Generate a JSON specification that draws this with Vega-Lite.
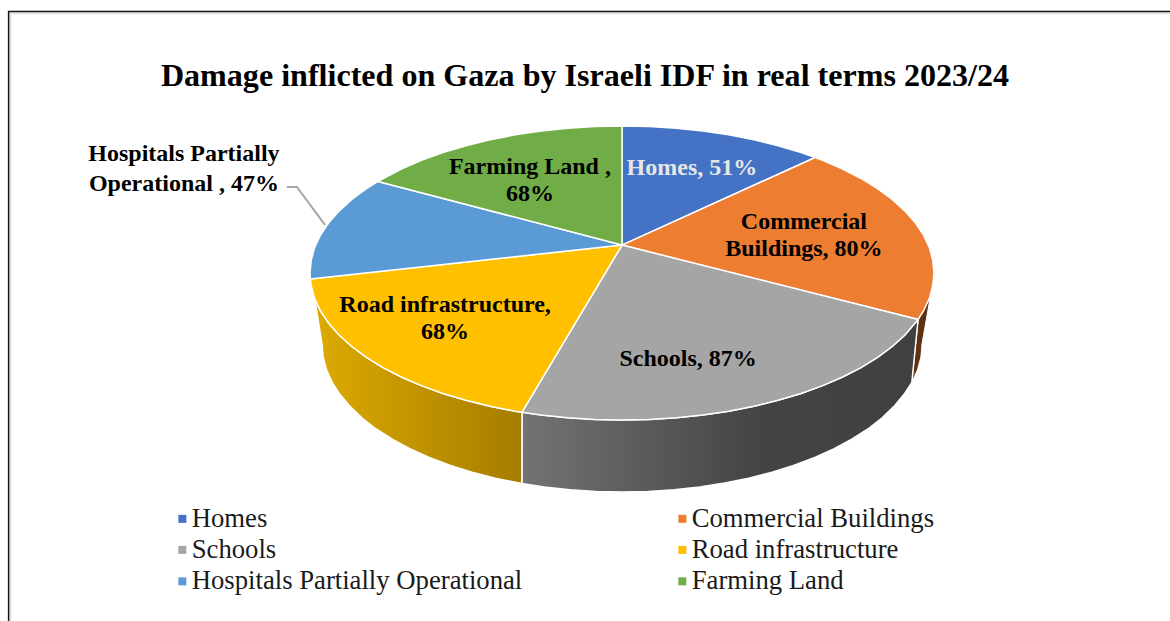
{"$schema":"https://vega.github.io/schema/vega-lite/v6.json","width":1170,"height":621,"padding":0,"autosize":{"type":"none"},"background":"white","config":{"view":{"stroke":null}},
"title":{"text":"Damage inflicted on Gaza by Israeli IDF in real terms 2023/24","anchor":"middle","frame":"group","offset":-93,"font":"Liberation Serif","fontSize":32.1,"fontWeight":"bold","color":"#000000"},
"datasets":{
"frameShadow":[{"seq":1,"x":-196,"y":-236.7},{"seq":2,"x":-196,"y":176.6},{"seq":3,"x":175.64,"y":176.6}],
"frame":[{"seq":1,"x":-196.6,"y":-236.7},{"seq":2,"x":-196.6,"y":177.9},{"seq":3,"x":175.64,"y":177.9}],
"leader":[{"seq":1,"x":-107.4,"y":58.5},{"seq":2,"x":-104.2,"y":58.5},{"seq":3,"x":-95.2,"y":32.7}],
"wallBrown":[{"seq":1,"x":99,"y":-13.9},{"seq":2,"x":98.5,"y":-17.4},{"seq":3,"x":96.6,"y":-25.9},{"seq":4,"x":94.9,"y":-31.6},{"seq":5,"x":92.9,"y":-74.4},{"seq":6,"x":94.7,"y":-65.8},{"seq":7,"x":95.8,"y":-57.1},{"seq":8,"x":96.15,"y":-48.3},{"seq":9,"x":99,"y":-13.9}],
"wallGray":[{"seq":1,"x":94.9,"y":-31.6},{"seq":2,"x":90.6,"y":-42.3},{"seq":3,"x":86.6,"y":-50},{"seq":4,"x":81.9,"y":-57.4},{"seq":5,"x":76.6,"y":-64.3},{"seq":6,"x":70.7,"y":-70.7},{"seq":7,"x":64.3,"y":-76.6},{"seq":8,"x":57.4,"y":-81.9},{"seq":9,"x":50,"y":-86.6},{"seq":10,"x":42.3,"y":-90.6},{"seq":11,"x":34.2,"y":-94},{"seq":12,"x":25.9,"y":-96.6},{"seq":13,"x":17.4,"y":-98.5},{"seq":14,"x":8.7,"y":-99.6},{"seq":15,"x":0,"y":-100},{"seq":16,"x":-8.7,"y":-99.6},{"seq":17,"x":-17.4,"y":-98.5},{"seq":18,"x":-25.9,"y":-96.6},{"seq":19,"x":-32.05,"y":-94.7},{"seq":20,"x":-32.1,"y":-143.2},{"seq":21,"x":-24.9,"y":-145.6},{"seq":22,"x":-16.7,"y":-147.5},{"seq":23,"x":-8.4,"y":-148.6},{"seq":24,"x":0,"y":-149},{"seq":25,"x":8.4,"y":-148.6},{"seq":26,"x":16.7,"y":-147.5},{"seq":27,"x":24.9,"y":-145.6},{"seq":28,"x":32.9,"y":-142.9},{"seq":29,"x":40.6,"y":-139.6},{"seq":30,"x":48.1,"y":-135.5},{"seq":31,"x":55.2,"y":-130.8},{"seq":32,"x":61.8,"y":-125.4},{"seq":33,"x":68,"y":-119.5},{"seq":34,"x":73.65,"y":-113},{"seq":35,"x":78.8,"y":-106.1},{"seq":36,"x":83.3,"y":-98.65},{"seq":37,"x":87.1,"y":-90.9},{"seq":38,"x":90.35,"y":-82.7},{"seq":39,"x":92.9,"y":-74.4},{"seq":40,"x":94.9,"y":-31.6}],
"wallGold":[{"seq":1,"x":-32.05,"y":-94.7},{"seq":2,"x":-34.2,"y":-94},{"seq":3,"x":-42.3,"y":-90.6},{"seq":4,"x":-50,"y":-86.6},{"seq":5,"x":-57.4,"y":-81.9},{"seq":6,"x":-64.3,"y":-76.6},{"seq":7,"x":-70.7,"y":-70.7},{"seq":8,"x":-76.6,"y":-64.3},{"seq":9,"x":-81.9,"y":-57.4},{"seq":10,"x":-86.6,"y":-50},{"seq":11,"x":-90.6,"y":-42.3},{"seq":12,"x":-94,"y":-34.2},{"seq":13,"x":-96.6,"y":-25.9},{"seq":14,"x":-98.5,"y":-17.4},{"seq":15,"x":-96.15,"y":-48.3},{"seq":16,"x":-95.8,"y":-57.1},{"seq":17,"x":-94.7,"y":-65.8},{"seq":18,"x":-92.9,"y":-74.4},{"seq":19,"x":-90.35,"y":-82.7},{"seq":20,"x":-87.1,"y":-90.9},{"seq":21,"x":-83.3,"y":-98.65},{"seq":22,"x":-78.8,"y":-106.1},{"seq":23,"x":-73.65,"y":-113},{"seq":24,"x":-68,"y":-119.5},{"seq":25,"x":-61.8,"y":-125.4},{"seq":26,"x":-55.2,"y":-130.8},{"seq":27,"x":-48.1,"y":-135.5},{"seq":28,"x":-40.6,"y":-139.6},{"seq":29,"x":-32.1,"y":-143.2},{"seq":30,"x":-32.05,"y":-94.7}],
"slices":[
{"name":"Homes","seq":1,"x":0,"y":19},{"name":"Homes","seq":2,"x":0,"y":100},{"name":"Homes","seq":3,"x":8.7,"y":99.6},{"name":"Homes","seq":4,"x":17.4,"y":98.5},{"name":"Homes","seq":5,"x":25.9,"y":96.6},{"name":"Homes","seq":6,"x":34.2,"y":94},{"name":"Homes","seq":7,"x":42.3,"y":90.6},{"name":"Homes","seq":8,"x":50,"y":86.6},{"name":"Homes","seq":9,"x":57.4,"y":81.9},{"name":"Homes","seq":10,"x":61.9,"y":78.6},{"name":"Homes","seq":11,"x":0,"y":19},
{"name":"Commercial Buildings","seq":1,"x":0,"y":19},{"name":"Commercial Buildings","seq":2,"x":61.9,"y":78.6},{"name":"Commercial Buildings","seq":3,"x":64.3,"y":76.6},{"name":"Commercial Buildings","seq":4,"x":70.7,"y":70.7},{"name":"Commercial Buildings","seq":5,"x":76.6,"y":64.3},{"name":"Commercial Buildings","seq":6,"x":81.9,"y":57.4},{"name":"Commercial Buildings","seq":7,"x":86.6,"y":50},{"name":"Commercial Buildings","seq":8,"x":90.6,"y":42.3},{"name":"Commercial Buildings","seq":9,"x":94,"y":34.2},{"name":"Commercial Buildings","seq":10,"x":96.6,"y":25.9},{"name":"Commercial Buildings","seq":11,"x":98.5,"y":17.4},{"name":"Commercial Buildings","seq":12,"x":99.6,"y":8.7},{"name":"Commercial Buildings","seq":13,"x":100,"y":0},{"name":"Commercial Buildings","seq":14,"x":99.6,"y":-8.7},{"name":"Commercial Buildings","seq":15,"x":98.5,"y":-17.4},{"name":"Commercial Buildings","seq":16,"x":96.6,"y":-25.9},{"name":"Commercial Buildings","seq":17,"x":94.9,"y":-31.6},{"name":"Commercial Buildings","seq":18,"x":0,"y":19},
{"name":"Schools","seq":1,"x":0,"y":19},{"name":"Schools","seq":2,"x":94.9,"y":-31.6},{"name":"Schools","seq":3,"x":90.6,"y":-42.3},{"name":"Schools","seq":4,"x":86.6,"y":-50},{"name":"Schools","seq":5,"x":81.9,"y":-57.4},{"name":"Schools","seq":6,"x":76.6,"y":-64.3},{"name":"Schools","seq":7,"x":70.7,"y":-70.7},{"name":"Schools","seq":8,"x":64.3,"y":-76.6},{"name":"Schools","seq":9,"x":57.4,"y":-81.9},{"name":"Schools","seq":10,"x":50,"y":-86.6},{"name":"Schools","seq":11,"x":42.3,"y":-90.6},{"name":"Schools","seq":12,"x":34.2,"y":-94},{"name":"Schools","seq":13,"x":25.9,"y":-96.6},{"name":"Schools","seq":14,"x":17.4,"y":-98.5},{"name":"Schools","seq":15,"x":8.7,"y":-99.6},{"name":"Schools","seq":16,"x":0,"y":-100},{"name":"Schools","seq":17,"x":-8.7,"y":-99.6},{"name":"Schools","seq":18,"x":-17.4,"y":-98.5},{"name":"Schools","seq":19,"x":-25.9,"y":-96.6},{"name":"Schools","seq":20,"x":-32.05,"y":-94.7},{"name":"Schools","seq":21,"x":0,"y":19},
{"name":"Road infrastructure","seq":1,"x":0,"y":19},{"name":"Road infrastructure","seq":2,"x":-32.05,"y":-94.7},{"name":"Road infrastructure","seq":3,"x":-34.2,"y":-94},{"name":"Road infrastructure","seq":4,"x":-42.3,"y":-90.6},{"name":"Road infrastructure","seq":5,"x":-50,"y":-86.6},{"name":"Road infrastructure","seq":6,"x":-57.4,"y":-81.9},{"name":"Road infrastructure","seq":7,"x":-64.3,"y":-76.6},{"name":"Road infrastructure","seq":8,"x":-70.7,"y":-70.7},{"name":"Road infrastructure","seq":9,"x":-76.6,"y":-64.3},{"name":"Road infrastructure","seq":10,"x":-81.9,"y":-57.4},{"name":"Road infrastructure","seq":11,"x":-86.6,"y":-50},{"name":"Road infrastructure","seq":12,"x":-90.6,"y":-42.3},{"name":"Road infrastructure","seq":13,"x":-94,"y":-34.2},{"name":"Road infrastructure","seq":14,"x":-96.6,"y":-25.9},{"name":"Road infrastructure","seq":15,"x":-98.5,"y":-17.4},{"name":"Road infrastructure","seq":16,"x":-99.6,"y":-8.7},{"name":"Road infrastructure","seq":17,"x":-99.9,"y":-4},{"name":"Road infrastructure","seq":18,"x":0,"y":19},
{"name":"Hospitals Partially Operational","seq":1,"x":0,"y":19},{"name":"Hospitals Partially Operational","seq":2,"x":-99.9,"y":-4},{"name":"Hospitals Partially Operational","seq":3,"x":-100,"y":0},{"name":"Hospitals Partially Operational","seq":4,"x":-99.6,"y":8.7},{"name":"Hospitals Partially Operational","seq":5,"x":-98.5,"y":17.4},{"name":"Hospitals Partially Operational","seq":6,"x":-96.6,"y":25.9},{"name":"Hospitals Partially Operational","seq":7,"x":-94,"y":34.2},{"name":"Hospitals Partially Operational","seq":8,"x":-90.6,"y":42.3},{"name":"Hospitals Partially Operational","seq":9,"x":-86.6,"y":50},{"name":"Hospitals Partially Operational","seq":10,"x":-81.9,"y":57.4},{"name":"Hospitals Partially Operational","seq":11,"x":-78.2,"y":62.3},{"name":"Hospitals Partially Operational","seq":12,"x":0,"y":19},
{"name":"Farming Land","seq":1,"x":0,"y":19},{"name":"Farming Land","seq":2,"x":-78.2,"y":62.3},{"name":"Farming Land","seq":3,"x":-70.7,"y":70.7},{"name":"Farming Land","seq":4,"x":-64.3,"y":76.6},{"name":"Farming Land","seq":5,"x":-57.4,"y":81.9},{"name":"Farming Land","seq":6,"x":-50,"y":86.6},{"name":"Farming Land","seq":7,"x":-42.3,"y":90.6},{"name":"Farming Land","seq":8,"x":-34.2,"y":94},{"name":"Farming Land","seq":9,"x":-25.9,"y":96.6},{"name":"Farming Land","seq":10,"x":-17.4,"y":98.5},{"name":"Farming Land","seq":11,"x":-8.7,"y":99.6},{"name":"Farming Land","seq":12,"x":0,"y":100},{"name":"Farming Land","seq":13,"x":0,"y":19}],
"labels":[
{"name":"Homes","value":51,"text":"Homes, 51%","x":22.4,"y":71.4},
{"name":"Commercial Buildings","value":80,"text":"Commercial\nBuildings, 80%","x":58.3,"y":34.7},
{"name":"Schools","value":87,"text":"Schools, 87%","x":21.2,"y":-58.5},
{"name":"Road infrastructure","value":68,"text":"Road infrastructure,\n68%","x":-56.7,"y":-21.8},
{"name":"Farming Land","value":68,"text":"Farming Land ,\n68%","x":-29.5,"y":72.1}],
"labelsOutside":[
{"name":"Hospitals Partially Operational","value":47,"text":"Hospitals Partially\nOperational , 47%","x":-140.4,"y":80.9}]},
"encoding":{"x":{"field":"x","type":"quantitative","axis":null,"scale":{"domain":[-199.36,175.64],"nice":false,"zero":false}},"y":{"field":"y","type":"quantitative","axis":null,"scale":{"domain":[-236.7,185.7],"nice":false,"zero":false}}},
"layer":[
{"data":{"name":"frameShadow"},"mark":{"type":"line","stroke":"#dedede","strokeWidth":1.5},"encoding":{"order":{"field":"seq"}}},
{"data":{"name":"frame"},"mark":{"type":"line","stroke":"#111111","strokeWidth":1.5},"encoding":{"order":{"field":"seq"}}},
{"data":{"name":"wallBrown"},"mark":{"type":"line","fill":"#5f3113","stroke":"#ffffff","strokeWidth":1},"encoding":{"order":{"field":"seq"}}},
{"data":{"name":"wallGray"},"mark":{"type":"line","stroke":"#ffffff","strokeWidth":1.5,"fill":{"gradient":"linear","x1":0,"y1":0,"x2":1,"y2":0,"stops":[{"offset":0,"color":"#737373"},{"offset":0.6,"color":"#444444"},{"offset":1,"color":"#404040"}]}},"encoding":{"order":{"field":"seq"}}},
{"data":{"name":"wallGold"},"mark":{"type":"line","stroke":"#ffffff","strokeWidth":1.5,"fill":{"gradient":"linear","x1":0,"y1":0,"x2":1,"y2":0,"stops":[{"offset":0,"color":"#dcaa00"},{"offset":1,"color":"#a67c00"}]}},"encoding":{"order":{"field":"seq"}}},
{"data":{"name":"slices"},"mark":{"type":"line","stroke":"#ffffff","strokeWidth":1.5},"encoding":{"order":{"field":"seq"},"detail":{"field":"name"},"fill":{"field":"name","type":"nominal","scale":{"domain":["Homes","Commercial Buildings","Schools","Road infrastructure","Hospitals Partially Operational","Farming Land"],"range":["#4472c4","#ed7d31","#a5a5a5","#ffc000","#5b9bd5","#70ad47"]},"legend":{"title":null,"orient":"none","legendX":169,"legendY":505,"columns":2,"direction":"horizontal","symbolType":"square","symbolSize":64,"symbolStrokeWidth":0,"labelFont":"Liberation Serif","labelFontSize":26.7,"labelColor":"#1a1a1a","labelLimit":500,"columnPadding":146,"rowPadding":3.5,"labelOffset":-4}}}},
{"data":{"name":"leader"},"mark":{"type":"line","stroke":"#a6a6a6","strokeWidth":2},"encoding":{"order":{"field":"seq"}}},
{"data":{"name":"labels"},"mark":{"type":"text","font":"Liberation Serif","fontWeight":"bold","fontSize":24,"lineBreak":"\n","lineHeight":27,"align":"center","baseline":"middle"},"encoding":{"text":{"field":"text","type":"nominal"},"color":{"condition":{"test":"datum.name==='Homes'","value":"#e7e6e6"},"value":"#000000"}}},
{"data":{"name":"labelsOutside"},"mark":{"type":"text","font":"Liberation Serif","fontWeight":"bold","fontSize":24,"lineBreak":"\n","lineHeight":30,"align":"center","baseline":"middle","color":"#000000"},"encoding":{"text":{"field":"text","type":"nominal"}}}
]}
